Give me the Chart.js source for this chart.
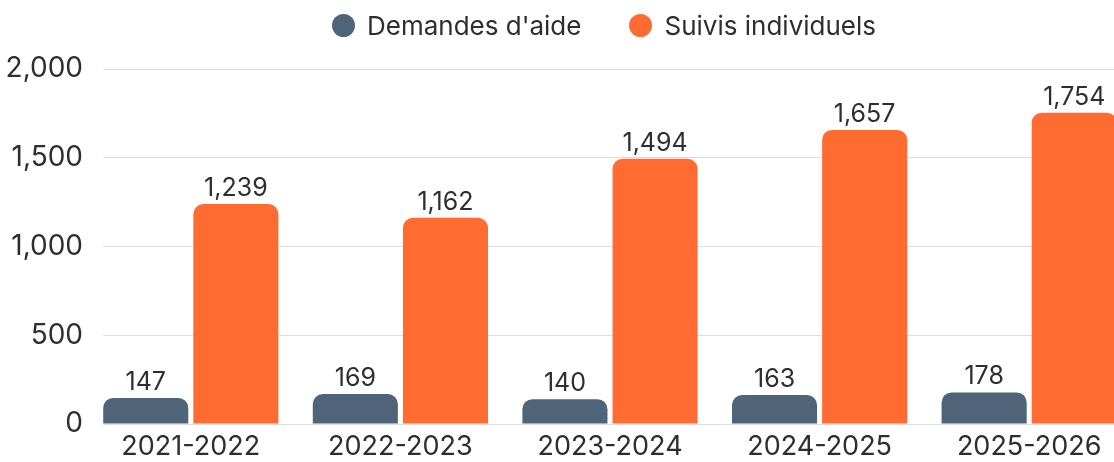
<!DOCTYPE html>
<html>
<head>
<meta charset="utf-8">
<script src="https://cdn.jsdelivr.net/npm/chart.js@4.4.1/dist/chart.umd.min.js"></script>
<style>
  html, body { margin: 0; padding: 0; background: #fff; overflow: hidden; }
  #wrap { width: 1208px; height: 462px; position: relative; }
  #legend {
    position: absolute; top: 0; left: 0; width: 100%; height: 50px;
    display: flex; justify-content: center; align-items: center; gap: 48px;
    font: 26px Inter, "Noto Sans", sans-serif; color: #2e2e2e;
  }
  #legend .item { display: flex; align-items: center; white-space: nowrap; }
  #legend .dot { width: 23px; height: 23px; border-radius: 50%; margin-right: 12px; }
</style>
</head>
<body>
<div id="wrap">
  <canvas id="aideChart"></canvas>
  <div id="legend"></div>
</div>
<script>
// Data
const years = ['2021-2022', '2022-2023', '2023-2024', '2024-2025', '2025-2026'];
const demandesAide = [147, 169, 140, 163, 178];
const suivisIndividuels = [1239, 1162, 1494, 1657, 1754];
const yTicks = [0, 500, 1000, 1500, 2000];

const textColor = '#2e2e2e';
const fontFamily = 'Inter, "Noto Sans", sans-serif';

// value labels above each bar
const valueLabels = {
  id: 'valueLabels',
  afterDatasetsDraw(chart) {
    const ctx = chart.ctx;
    ctx.save();
    ctx.font = '25px ' + fontFamily;
    ctx.fillStyle = textColor;
    ctx.textAlign = 'center';
    ctx.textBaseline = 'alphabetic';
    chart.data.datasets.forEach((ds, i) => {
      chart.getDatasetMeta(i).data.forEach((bar, j) => {
        ctx.fillText(ds.data[j].toLocaleString('en-US'), bar.x, bar.y - 8);
      });
    });
    ctx.restore();
  }
};

// gridlines only start where the first bar starts
const gridMask = {
  id: 'gridMask',
  beforeDatasetsDraw(chart) {
    const a = chart.chartArea;
    const first = chart.getDatasetMeta(0).data[0];
    const edge = first.x - first.width / 2;
    const ctx = chart.ctx;
    ctx.save();
    ctx.fillStyle = '#fff';
    ctx.fillRect(a.left, a.top - 2, edge - a.left, a.bottom - a.top + 4);
    ctx.restore();
  }
};

const ctx = document.getElementById('aideChart').getContext('2d');
const chart = new Chart(ctx, {
  type: 'bar',
  data: {
    labels: years,
    datasets: [
      {
        label: "Demandes d'aide",
        data: demandesAide,
        backgroundColor: '#4f6479',
        borderRadius: 10,
        borderSkipped: 'start',
        categoryPercentage: 0.86,
        barPercentage: 0.944
      },
      {
        label: 'Suivis individuels',
        data: suivisIndividuels,
        backgroundColor: '#ff6b30',
        borderRadius: 10,
        borderSkipped: 'start',
        categoryPercentage: 0.86,
        barPercentage: 0.944
      }
    ]
  },
  options: {
    responsive: true,
    maintainAspectRatio: false,
    animation: false,
    layout: { padding: { top: 69, right: 74, left: 0, bottom: 0 } },
    plugins: {
      legend: { display: false },
      tooltip: { enabled: false }
    },
    scales: {
      x: {
        grid: { display: false, drawTicks: false },
        border: { display: false },
        ticks: { color: textColor, padding: 7, font: { family: fontFamily, size: 27 } },
        afterFit: s => { s.height = 38; }
      },
      y: {
        min: 0,
        max: 2000,
        afterBuildTicks: s => { s.ticks = yTicks.map(v => ({ value: v })); },
        grid: { color: '#dcdcdc', drawTicks: false },
        border: { display: false },
        ticks: {
          color: textColor,
          padding: 3,
          font: { family: fontFamily, size: 28 },
          callback: v => v.toLocaleString('en-US')
        },
        afterFit: s => { s.width = 86; }
      }
    }
  },
  plugins: [valueLabels, gridMask]
});

// html legend built from the datasets
const legendEl = document.getElementById('legend');
chart.data.datasets.forEach(ds => {
  const item = document.createElement('span');
  item.className = 'item';
  const dot = document.createElement('span');
  dot.className = 'dot';
  dot.style.background = ds.backgroundColor;
  item.appendChild(dot);
  item.appendChild(document.createTextNode(ds.label));
  legendEl.appendChild(item);
});
</script>
</body>
</html>
